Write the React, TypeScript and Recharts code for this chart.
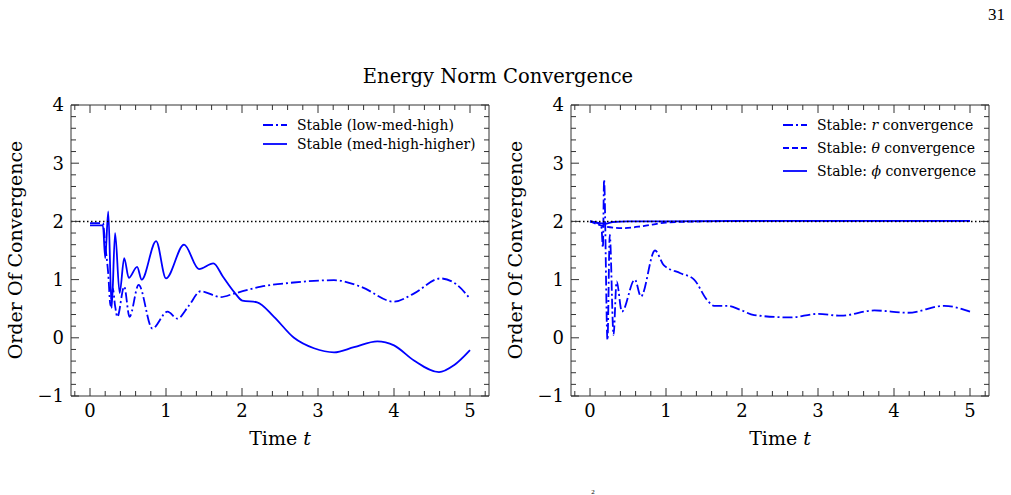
import React from "react";
import { LineChart, Line, XAxis, YAxis, ReferenceLine, Legend } from "recharts";

// Left panel: energy norm convergence order for the two resolution triplets
const lowMedHighT = [0, 0.17, 0.2, 0.24, 0.27, 0.3, 0.33, 0.36, 0.45, 0.52, 0.64, 0.82, 1.02, 1.15, 1.3, 1.456, 1.72, 1.895, 2.25, 2.68, 3.21, 3.56, 4.0, 4.26, 4.61, 4.83, 5.0];
const lowMedHighV = [1.97, 1.97, 1.6, 1.1, 0.55, 0.85, 0.55, 0.36, 0.88, 0.36, 0.91, 0.16, 0.45, 0.33, 0.55, 0.8, 0.7, 0.76, 0.88, 0.95, 0.99, 0.88, 0.62, 0.76, 1.02, 0.91, 0.67];

const medHighHigherT = [0, 0.17, 0.2, 0.24, 0.285, 0.33, 0.39, 0.45, 0.51, 0.62, 0.68, 0.87, 1.0, 1.237, 1.434, 1.623, 1.75, 1.895, 2.004, 2.2, 2.421, 2.684, 2.947, 3.211, 3.474, 3.781, 4.0, 4.263, 4.592, 4.789, 5.0];
const medHighHigherV = [1.93, 1.93, 1.37, 2.17, 0.51, 1.8, 0.77, 1.37, 1.03, 1.22, 1.0, 1.66, 1.02, 1.6, 1.18, 1.28, 1.05, 0.79, 0.64, 0.61, 0.36, 0.0, -0.18, -0.25, -0.16, -0.06, -0.13, -0.39, -0.59, -0.47, -0.21];

// Right panel: per-component convergence
const rConvT = [0, 0.1, 0.15, 0.17, 0.185, 0.23, 0.26, 0.31, 0.35, 0.42, 0.59, 0.67, 0.855, 0.97, 1.19, 1.37, 1.54, 1.63, 1.81, 1.98, 2.16, 2.64, 2.99, 3.3, 3.74, 4.18, 4.66, 5.0];
const rConvV = [2.0, 1.97, 1.9, 1.55, 2.72, -0.04, 1.77, 0.05, 0.97, 0.45, 1.0, 0.71, 1.5, 1.25, 1.11, 1.0, 0.65, 0.55, 0.55, 0.48, 0.39, 0.35, 0.41, 0.38, 0.47, 0.43, 0.55, 0.45];

const thetaConvT = [0, 0.1, 0.2, 0.45, 0.7, 1.0, 1.5, 2.5, 3.5, 5.0];
const thetaConvV = [2.0, 1.95, 1.91, 1.885, 1.92, 1.98, 2.0, 2.01, 2.01, 2.01];

const phiConvT = [0, 0.1, 0.2, 0.3, 0.5, 1.0, 2.0, 3.0, 4.0, 5.0];
const phiConvV = [2.0, 1.98, 1.96, 1.99, 2.0, 2.0, 2.01, 2.01, 2.01, 2.01];

const TARGET_ORDER = 2;
const X_DOMAIN = [-0.25, 5.25];
const Y_DOMAIN = [-1, 4];

const BLUE = "#0000ff";
const FRAME = "#333";
const DASH_DOT = "10 3 2 3";
const DASHED = "6 3";
const FONT = "'DejaVu Serif', serif";

// minor ticks every 0.2, majors land on the integers
function tickRange(from: number, to: number, step: number) {
  const out: number[] = [];
  for (let i = Math.round(from / step); i * step <= to + 1e-9; i++) {
    out.push(Math.round(i * step * 100) / 100);
  }
  return out;
}
const X_TICKS = tickRange(-0.2, 5.2, 0.2);
const Y_TICKS = tickRange(-1, 4, 0.2);

const isMajor = (v: number) => Math.abs(v - Math.round(v)) < 1e-6;
const fmt = (v: number) => (v < 0 ? "\u2212" + Math.abs(v) : String(v));

const toPoints = (t: number[], v: number[]) => t.map((x, i) => ({ t: x, v: v[i] }));

type Series = { key: string; label: string[]; dash?: string; data: { t: number; v: number }[] };

const leftSeries: Series[] = [
  { key: "lmh", label: ["Stable (low-med-high)"], dash: DASH_DOT, data: toPoints(lowMedHighT, lowMedHighV) },
  { key: "mhh", label: ["Stable (med-high-higher)"], data: toPoints(medHighHigherT, medHighHigherV) },
];

const rightSeries: Series[] = [
  { key: "r", label: ["Stable: ", "r", " convergence"], dash: DASH_DOT, data: toPoints(rConvT, rConvV) },
  { key: "theta", label: ["Stable: ", "\u03b8", " convergence"], dash: DASHED, data: toPoints(thetaConvT, thetaConvV) },
  { key: "phi", label: ["Stable: ", "\u03d5", " convergence"], data: toPoints(phiConvT, phiConvV) },
];

const XTick = (props: any) => {
  const { x, y, payload, side } = props;
  const v = payload.value;
  const len = isMajor(v) ? 8 : 5;
  const inward = side === "bottom" ? -len : len;
  return (
    <g>
      <line x1={x} x2={x} y1={y} y2={y + inward} stroke={FRAME} strokeWidth={1} />
      {side === "bottom" && isMajor(v) && (
        <text x={x} y={y + 21} textAnchor="middle" fontFamily={FONT} fontSize={18} fill="#000">
          {fmt(v)}
        </text>
      )}
    </g>
  );
};

const YTick = (props: any) => {
  const { x, y, payload, side } = props;
  const v = payload.value;
  const len = isMajor(v) ? 8 : 5;
  const inward = side === "left" ? len : -len;
  return (
    <g>
      <line x1={x} x2={x + inward} y1={y} y2={y} stroke={FRAME} strokeWidth={1} />
      {side === "left" && isMajor(v) && (
        <text x={x - 7} y={y} dy="0.36em" textAnchor="end" fontFamily={FONT} fontSize={18} fill="#000">
          {fmt(v)}
        </text>
      )}
    </g>
  );
};

function LegendBox({ series, rowHeight }: { series: Series[]; rowHeight: number }) {
  return (
    <div style={{ fontFamily: FONT, fontSize: 14, color: "#000" }}>
      {series.map((s) => (
        <div key={s.key} style={{ display: "flex", alignItems: "center", height: rowHeight, whiteSpace: "nowrap" }}>
          <svg width={24} height={6} style={{ marginRight: 10 }}>
            <line x1={0} x2={24} y1={3} y2={3} stroke={BLUE} strokeWidth={1.8} strokeDasharray={s.dash} />
          </svg>
          <span>
            {s.label.map((part, i) =>
              i === 1 ? <i key={i}>{part}</i> : <span key={i}>{part}</span>
            )}
          </span>
        </div>
      ))}
    </div>
  );
}

function Panel({ series, left, legendLeft, legendTop, rowHeight }: {
  series: Series[]; left: number; legendLeft: number; legendTop: number; rowHeight: number;
}) {
  // axes are 1px thick boxes so they still render; ticks and labels are drawn by XTick / YTick
  const axisCommon = {
    type: "number" as const,
    allowDataOverflow: true,
    interval: 0 as const,
    tickSize: 0,
    tickMargin: 0,
    tickLine: false,
    axisLine: { stroke: FRAME, strokeWidth: 1 },
  };
  return (
    <div style={{ position: "absolute", left, top: 0 }}>
      <LineChart width={500} height={470} margin={{ top: 104, right: 10, bottom: 73, left: 70 }}>
        <XAxis xAxisId="b" dataKey="t" {...axisCommon} domain={X_DOMAIN} ticks={X_TICKS} height={1} tick={<XTick side="bottom" />} />
        <XAxis xAxisId="t" orientation="top" dataKey="t" {...axisCommon} domain={X_DOMAIN} ticks={X_TICKS} height={1} tick={<XTick side="top" />} />
        <YAxis yAxisId="l" {...axisCommon} domain={Y_DOMAIN} ticks={Y_TICKS} width={1} tick={<YTick side="left" />} />
        <YAxis yAxisId="r" orientation="right" {...axisCommon} domain={Y_DOMAIN} ticks={Y_TICKS} width={1} tick={<YTick side="right" />} />
        {series.map((s) => (
          <Line
            key={s.key}
            xAxisId="b"
            yAxisId="l"
            data={s.data}
            dataKey="v"
            name={s.label.join("")}
            type="monotone"
            stroke={BLUE}
            strokeWidth={1.8}
            strokeDasharray={s.dash}
            dot={false}
            activeDot={false}
            isAnimationActive={false}
          />
        ))}
        <ReferenceLine xAxisId="b" yAxisId="l" y={TARGET_ORDER} stroke="#000" strokeWidth={1.5} strokeDasharray="1.5 2.5" />
        <Legend
          verticalAlign="middle"
          align="center"
          wrapperStyle={{ left: legendLeft, top: legendTop, width: "auto", height: "auto" }}
          content={() => <LegendBox series={series} rowHeight={rowHeight} />}
        />
      </LineChart>
    </div>
  );
}

export default function App() {
  return (
    <div style={{ position: "absolute", left: 0, top: 0, width: 1011, height: 495, background: "#fff", overflow: "hidden" }}>
      <Panel series={leftSeries} left={0} legendLeft={263} legendTop={115} rowHeight={19.5} />
      <Panel series={rightSeries} left={500} legendLeft={283} legendTop={113} rowHeight={23.3} />
      <svg width={1011} height={495} style={{ position: "absolute", left: 0, top: 0, pointerEvents: "none" }} fontFamily={FONT}>
        <text x={1005} y={20} textAnchor="end" fontFamily="'Liberation Serif', serif" fontSize={17} fill="#000">31</text>
        <text x={498} y={83} textAnchor="middle" fontSize={19.5} fill="#000">Energy Norm Convergence</text>
        {[280, 780].map((cx) => (
          <text key={cx} x={cx} y={445} textAnchor="middle" fontSize={19} fill="#000">
            Time <tspan fontStyle="italic">t</tspan>
          </text>
        ))}
        {[15, 515].map((cx) => (
          <text key={cx} x={cx} y={250} textAnchor="middle" dy="0.36em" fontSize={19} fill="#000" transform={`rotate(-90 ${cx} 250)`}>
            Order Of Convergence
          </text>
        ))}
        <text x={593} y={494} textAnchor="middle" fontFamily="'Liberation Serif', serif" fontSize={7} fill="#000">2</text>
      </svg>
    </div>
  );
}
